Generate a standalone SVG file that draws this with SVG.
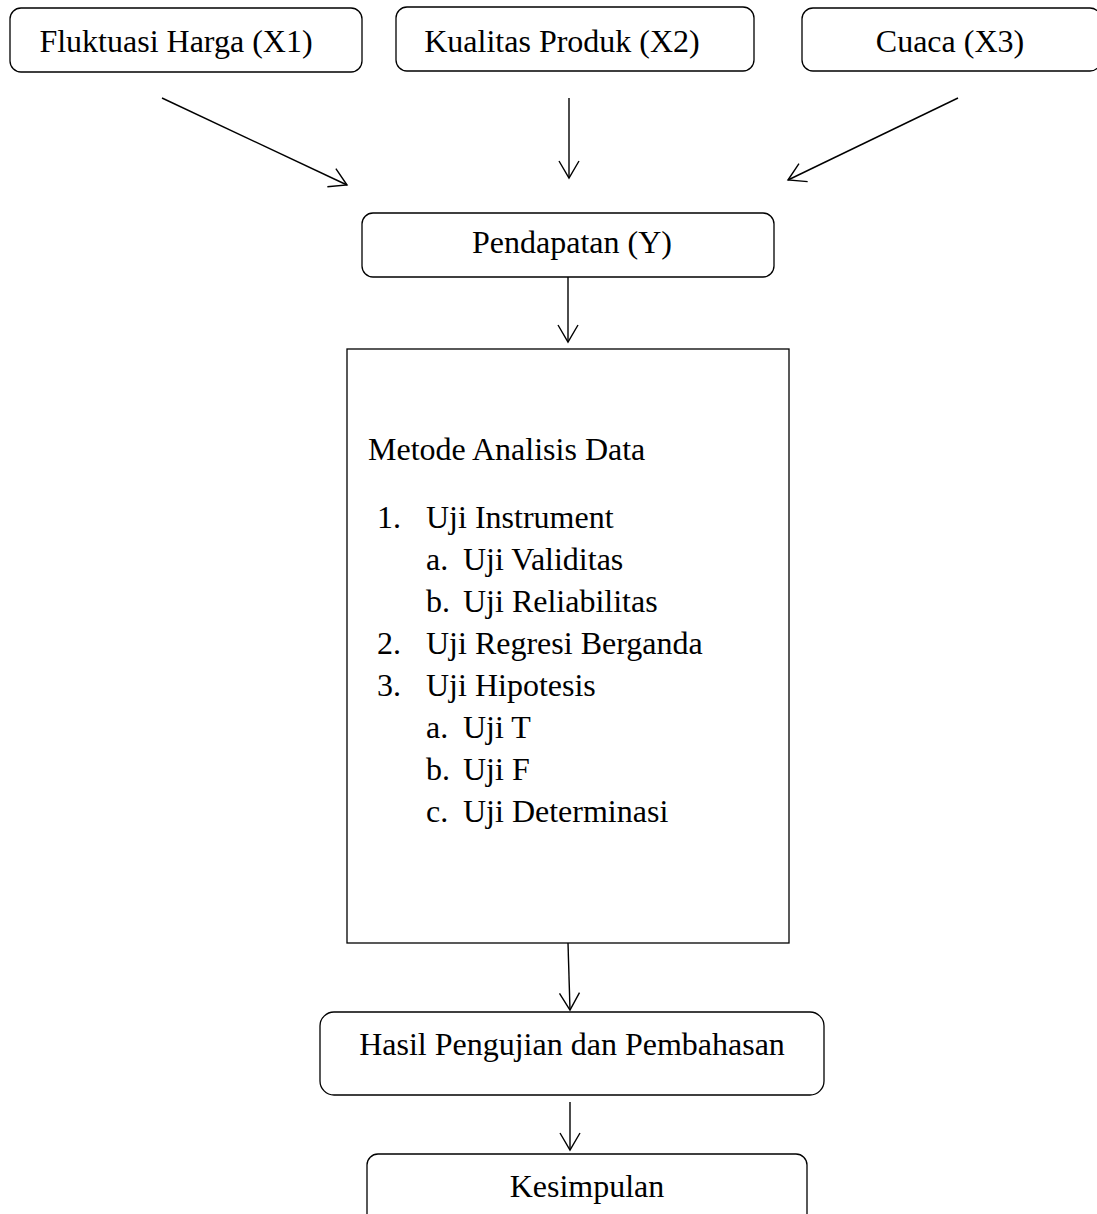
<svg xmlns="http://www.w3.org/2000/svg" width="1097" height="1214" viewBox="0 0 1097 1214">
<defs>
<style>
.box{fill:#fff;stroke:#000;stroke-width:1.3}
.t{font-family:"Liberation Serif","Times New Roman",serif;font-size:32px;fill:#000}
.c{text-anchor:middle}
.ln{stroke:#000;stroke-width:1.4;fill:none}
</style>
<marker id="ah" viewBox="-20 -12 24 24" refX="0" refY="0" markerWidth="24" markerHeight="24" markerUnits="userSpaceOnUse" orient="auto">
<path d="M-17,-10 L0,0 L-17,10" fill="none" stroke="#000" stroke-width="1.4"/>
</marker>
</defs>
<rect width="1097" height="1214" fill="#fff"/>
<g id="x1"><rect class="box" x="10" y="8" width="352" height="64" rx="11"/><text class="t c" x="176" y="52">Fluktuasi Harga (X1)</text></g>
<g id="x2"><rect class="box" x="396" y="7" width="358" height="64" rx="11"/><text class="t c" x="562" y="52">Kualitas Produk (X2)</text></g>
<g id="x3"><rect class="box" x="802" y="8" width="299" height="63" rx="11"/><text class="t c" x="950" y="52">Cuaca (X3)</text></g>
<g id="y"><rect class="box" x="362" y="213" width="412" height="64" rx="11"/><text class="t c" x="572" y="253">Pendapatan (Y)</text></g>
<g id="metode"><rect class="box" x="347" y="349" width="442" height="594"/>
<text class="t" x="368" y="460">Metode Analisis Data</text>
<text class="t" x="377" y="528">1.</text><text class="t" x="426" y="528">Uji Instrument</text>
<text class="t" x="426" y="570">a.</text><text class="t" x="463" y="570">Uji Validitas</text>
<text class="t" x="426" y="612">b.</text><text class="t" x="463" y="612">Uji Reliabilitas</text>
<text class="t" x="377" y="654">2.</text><text class="t" x="426" y="654">Uji Regresi Berganda</text>
<text class="t" x="377" y="696">3.</text><text class="t" x="426" y="696">Uji Hipotesis</text>
<text class="t" x="426" y="738">a.</text><text class="t" x="463" y="738">Uji T</text>
<text class="t" x="426" y="780">b.</text><text class="t" x="463" y="780">Uji F</text>
<text class="t" x="426" y="822">c.</text><text class="t" x="463" y="822">Uji Determinasi</text>
</g>
<g id="hasil"><rect class="box" x="320" y="1012" width="504" height="83" rx="14"/><text class="t c" x="572" y="1055">Hasil Pengujian dan Pembahasan</text></g>
<g id="kesimpulan"><rect class="box" x="367" y="1154" width="440" height="80" rx="11"/><text class="t c" x="587" y="1197">Kesimpulan</text></g>
<g id="connectors">
<line class="ln" x1="162" y1="98" x2="347" y2="185" marker-end="url(#ah)"/>
<line class="ln" x1="569" y1="98" x2="569" y2="178" marker-end="url(#ah)"/>
<line class="ln" x1="958" y1="98" x2="788" y2="180" marker-end="url(#ah)"/>
<line class="ln" x1="568" y1="277" x2="568" y2="342" marker-end="url(#ah)"/>
<line class="ln" x1="568" y1="943" x2="570" y2="1010" marker-end="url(#ah)"/>
<line class="ln" x1="570" y1="1102" x2="570" y2="1150" marker-end="url(#ah)"/>
</g>
</svg>
